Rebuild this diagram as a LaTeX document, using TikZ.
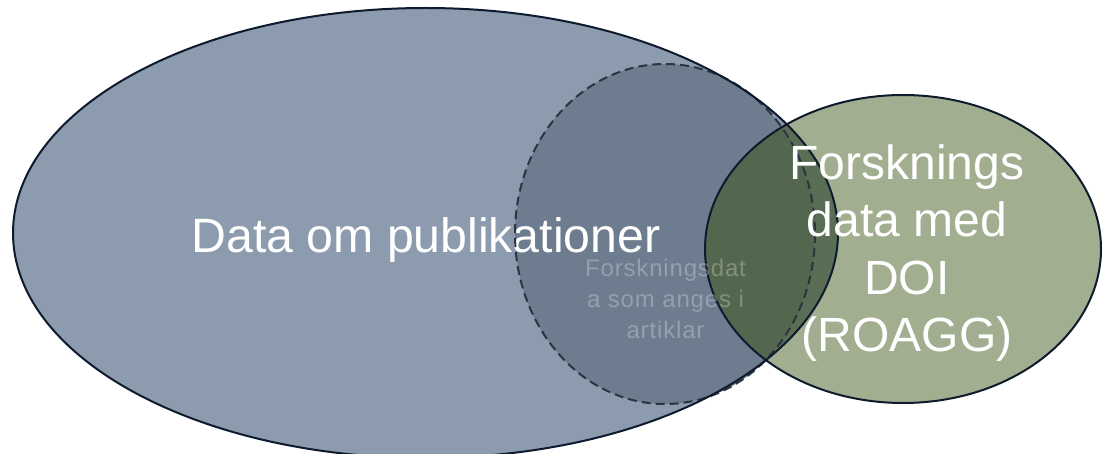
\documentclass[tikz,border=0pt]{standalone}
\usepackage{fontspec}
\setmainfont{Liberation Sans}
\newfontfamily\spacedfont[LetterSpace=3.5]{Liberation Sans}
\definecolor{pubfill}{HTML}{8C9BAE}
\definecolor{artfill}{HTML}{6E7C8F}
\definecolor{doifill}{HTML}{A1AF90}
\definecolor{ovlA}{HTML}{5A6E56}
\definecolor{ovlB}{HTML}{53674F}
\definecolor{edge}{HTML}{0E1A2E}
\definecolor{dashedge}{HTML}{2B3542}
\tikzset{
  border/.style={draw=edge, line width=2pt},
  dashborder/.style={draw=dashedge, line width=2pt, dash pattern=on 9pt off 5pt},
  bigtext/.style={text=white, inner sep=0pt, align=center, font=\fontsize{48.2}{57}\selectfont},
  doitext/.style={text=white, inner sep=0pt, align=center, font=\fontsize{48}{57.3}\selectfont},
  smalltext/.style={text=white, text opacity=0.27, inner sep=0pt, align=center, font=\spacedfont\fontsize{24}{31.3}\selectfont},
}
\begin{document}
\begin{tikzpicture}[x=1pt,y=-1pt]
\useasboundingbox (0,0) rectangle (1104,454);
\clip (0,0) rectangle (1104,454);
% big ellipse
\fill[pubfill] (425.5,233) ellipse [x radius=412.5, y radius=225];
% dashed ellipse fill
\fill[artfill] (665,234) ellipse [x radius=150, y radius=170];
\node[bigtext] (pub) at (426,240) {Data om publikationer};
% green ellipse
\fill[doifill] (903,249) ellipse [x radius=198, y radius=154];
\begin{scope}
  \clip (903,249) ellipse [x radius=198, y radius=154];
  \fill[ovlA] (425.5,233) ellipse [x radius=412.5, y radius=225];
  \fill[ovlB] (665,234) ellipse [x radius=150, y radius=170];
\end{scope}
% borders
\path[dashborder] (665,234) ellipse [x radius=150, y radius=170];
\path[border] (425.5,233) ellipse [x radius=412.5, y radius=225];
\path[border] (903,249) ellipse [x radius=198, y radius=154];
\node[doitext] (doi) at (907,253) {Forsknings\\data med\\DOI\\(ROAGG)};
\node[smalltext] (art) at (665.5,299) {Forskningsdat\\a som anges i\\artiklar};
\end{tikzpicture}
\end{document}
